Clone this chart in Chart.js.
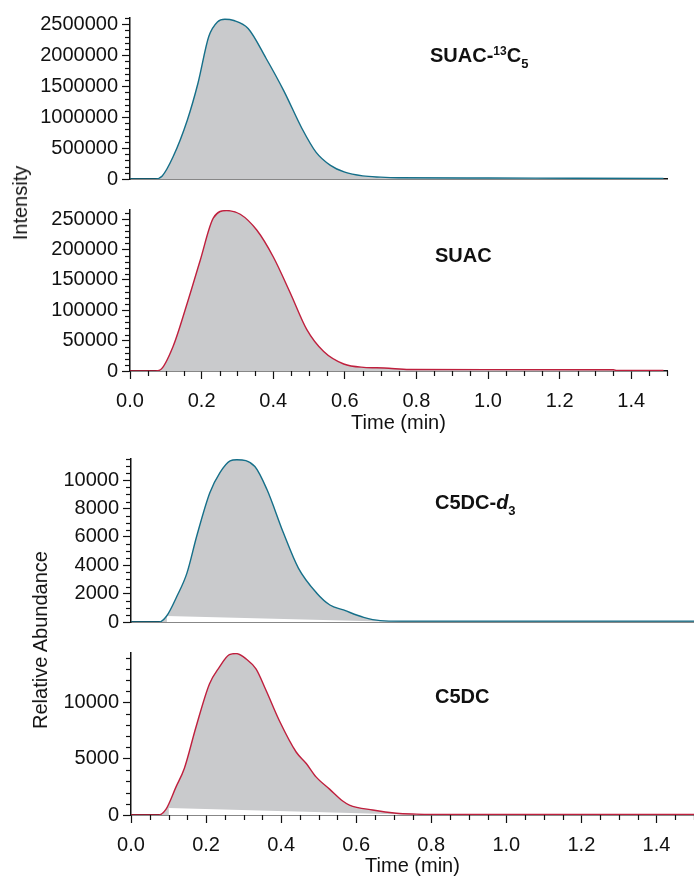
<!DOCTYPE html>
<html lang="en">
<head>
<meta charset="UTF-8">
<meta name="viewport" content="width=device-width, initial-scale=1.0">
<title>SUAC / C5DC chromatograms</title>
<style>
  * { margin: 0; padding: 0; box-sizing: border-box; }
  body {
    width: 694px; height: 877px; overflow: hidden; position: relative;
    background: #fff; color: #111;
    font-family: "Liberation Sans", Arial, sans-serif;
  }
  .panel { position: absolute; left: 0; width: 694px; }
  .tag { position: absolute; font-weight: bold; font-size: 20px; line-height: 20px; white-space: nowrap; }
  .tag .up { font-size: 12px; position: relative; top: -7px; }
  .tag .dn { font-size: 13px; position: relative; top: 6px; }
  .ytitle {
    position: absolute; font-size: 20px; line-height: 24px; white-space: nowrap;
    transform: translate(-50%, -50%) rotate(-90deg);
  }
</style>
</head>
<body>
  <div class="panel" style="top:0px;height:199px"><canvas id="c1"></canvas></div>
  <div class="panel" style="top:190px;height:245px"><canvas id="c2"></canvas></div>
  <div class="panel" style="top:440px;height:202px"><canvas id="c3"></canvas></div>
  <div class="panel" style="top:630px;height:248px"><canvas id="c4"></canvas></div>

  <div class="ytitle" style="left:20px;top:203px">Intensity</div>
  <div class="ytitle" style="left:40px;top:640px">Relative Abundance</div>

  <div class="tag" style="left:430px;top:45px">SUAC-<span class="up">13</span>C<span class="dn">5</span></div>
  <div class="tag" style="left:435px;top:245px">SUAC</div>
  <div class="tag" style="left:435px;top:492px">C5DC-<i>d</i><span class="dn">3</span></div>
  <div class="tag" style="left:435px;top:686px">C5DC</div>

<script src="https://cdn.jsdelivr.net/npm/chart.js"></script>
<script>
// --- data (time in min, intensity / abundance) ---
const timeSuac13 = [0, 0.07, 0.09, 0.12, 0.16, 0.19, 0.22, 0.245, 0.265, 0.29, 0.33, 0.38, 0.43, 0.48, 0.52, 0.56, 0.6, 0.65, 0.7, 0.75, 1.0, 1.25, 1.49];
const suac13    = [0, 0, 50000, 355000, 950000, 1550000, 2300000, 2540000, 2580000, 2560000, 2430000, 1950000, 1420000, 820000, 430000, 220000, 110000, 50000, 30000, 20000, 15000, 12000, 10000];

const timeSuac = [0, 0.07, 0.085, 0.12, 0.16, 0.196, 0.233, 0.27, 0.308, 0.354, 0.40, 0.448, 0.494, 0.541, 0.597, 0.653, 0.71, 0.78, 1.0, 1.35, 1.36, 1.49];
const suac     = [0, 0, 2000, 40000, 112000, 182000, 252000, 264000, 258000, 232000, 188000, 128000, 68000, 32000, 11500, 6000, 5000, 2500, 2200, 2000, 700, 700];

const timeC5dcD3 = [0, 0.075, 0.095, 0.122, 0.149, 0.175, 0.21, 0.237, 0.264, 0.282, 0.33, 0.362, 0.406, 0.446, 0.495, 0.53, 0.566, 0.62, 0.664, 0.72, 1.0, 1.5];
const c5dcD3     = [0, 0, 425, 1800, 3450, 6050, 9120, 10540, 11370, 11450, 10970, 9360, 6290, 3800, 2030, 1200, 850, 330, 100, 60, 60, 60];
const baseTimeD3 = [0.095, 0.72];
const baseD3     = [425, 0];

const timeC5dc = [0, 0.073, 0.093, 0.12, 0.142, 0.173, 0.209, 0.235, 0.262, 0.28, 0.307, 0.333, 0.36, 0.395, 0.44, 0.467, 0.493, 0.529, 0.564, 0.582, 0.644, 0.707, 0.76, 0.8, 1.0, 1.5];
const c5dc     = [0, 0, 500, 2500, 4130, 7800, 11650, 13120, 14250, 14350, 13870, 12980, 11060, 8400, 5600, 4580, 3390, 2300, 1240, 885, 440, 150, 80, 60, 60, 60];
const baseTimeC5 = [0.1, 0.78];
const baseC5     = [620, 0];

const timeTicks = [0, 0.2, 0.4, 0.6, 0.8, 1.0, 1.2, 1.4];

const TEAL = '#156f89';
const RED = '#bf1f3d';
const GRAY = '#c9cacc';
const INK = '#111';

Chart.defaults.font.family = '"Liberation Sans", Arial, sans-serif';
Chart.defaults.font.size = 20;
Chart.defaults.color = INK;

const pts = (xs, ys) => xs.map((x, i) => ({ x: x, y: ys[i] }));
const steps = (step, max) => {
  const out = [];
  for (let i = 0; i * step <= max + 1e-9; i++) out.push(i * step);
  return out;
};

// short minor ticks between the labelled ones
const minorTicks = {
  id: 'minorTicks',
  afterDraw(chart, args, opts) {
    const ctx = chart.ctx;
    ctx.save();
    ctx.strokeStyle = INK;
    ctx.lineWidth = 1.2;
    ['x', 'y'].forEach(id => {
      const o = opts[id];
      const s = chart.scales[id];
      if (!o || !s) return;
      const ratio = Math.round(o.major / o.minor);
      steps(o.minor, s.max).forEach((v, i) => {
        if (i % ratio === 0) return;
        const p = Math.round(s.getPixelForValue(v)) + 0.5;
        ctx.beginPath();
        if (id === 'x') { ctx.moveTo(p, s.top); ctx.lineTo(p, s.top + 5); }
        else { ctx.moveTo(s.right - 5, p); ctx.lineTo(s.right, p); }
        ctx.stroke();
      });
    });
    ctx.restore();
  }
};

function makePanel(id, cfg) {
  const datasets = [
    { data: cfg.data, borderColor: cfg.color, borderWidth: 1.4, fill: false, pointRadius: 0,
      cubicInterpolationMode: 'monotone', order: 0 },
    { data: cfg.data, borderWidth: 0, backgroundColor: GRAY, fill: 'origin', pointRadius: 0,
      cubicInterpolationMode: 'monotone', order: 2 }
  ];
  if (cfg.base) {
    datasets.push({ data: cfg.base, borderWidth: 0, backgroundColor: '#fff', fill: 'origin',
      pointRadius: 0, order: 1 });
  }
  const yTicks = steps(cfg.yMajor, cfg.yMax);
  return new Chart(document.getElementById(id), {
    type: 'line',
    data: { datasets: datasets },
    options: {
      responsive: true,
      maintainAspectRatio: false,
      animation: false,
      events: [],
      layout: { padding: { top: cfg.padTop, right: cfg.padRight, left: 0, bottom: 0 } },
      plugins: {
        legend: { display: false },
        tooltip: { enabled: false },
        minorTicks: {
          x: cfg.xTicks ? { minor: 0.05, major: 0.2 } : null,
          y: { minor: cfg.yMinor, major: cfg.yMajor }
        }
      },
      scales: {
        x: {
          type: 'linear', min: 0, max: 1.5, z: 1,
          afterBuildTicks: s => { s.ticks = timeTicks.map(v => ({ value: v })); },
          afterFit: s => { s.height = cfg.xHeight; },
          border: { display: true, color: INK, width: 1.5 },
          grid: { display: true, drawOnChartArea: false, drawTicks: cfg.xTicks, tickLength: 8, tickWidth: 1.2, tickColor: INK },
          ticks: { display: cfg.xTicks, autoSkip: false, maxRotation: 0, padding: 10,
                   callback: v => v.toFixed(1) },
          title: { display: cfg.xTicks, text: 'Time (min)', padding: 0, font: { size: 20 } }
        },
        y: {
          min: 0, max: cfg.yMax,
          afterBuildTicks: s => { s.ticks = yTicks.map(v => ({ value: v })); },
          afterFit: s => { s.width = cfg.yWidth; },
          border: { display: true, color: INK, width: 1.5 },
          grid: { display: true, drawOnChartArea: false, tickLength: 8, tickWidth: 1.2, tickColor: INK },
          ticks: { autoSkip: false, padding: 4, callback: v => String(v) }
        }
      }
    },
    plugins: [minorTicks]
  });
}

makePanel('c1', { data: pts(timeSuac13, suac13), color: TEAL, padTop: 18, padRight: 27, xHeight: 20,
  xTicks: false, yWidth: 130, yMax: 2600000, yMajor: 500000, yMinor: 100000 });
makePanel('c2', { data: pts(timeSuac, suac), color: RED, padTop: 20, padRight: 27, xHeight: 64,
  xTicks: true, yWidth: 130, yMax: 265000, yMajor: 50000, yMinor: 10000 });
makePanel('c3', { data: pts(timeC5dcD3, c5dcD3), base: pts(baseTimeD3, baseD3), color: TEAL, padTop: 19, padRight: 0,
  xHeight: 20, xTicks: false, yWidth: 131, yMax: 11500, yMajor: 2000, yMinor: 500 });
makePanel('c4', { data: pts(timeC5dc, c5dc), base: pts(baseTimeC5, baseC5), color: RED, padTop: 23, padRight: 0,
  xHeight: 63, xTicks: true, yWidth: 131, yMax: 14400, yMajor: 5000, yMinor: 1000 });
</script>
</body>
</html>
